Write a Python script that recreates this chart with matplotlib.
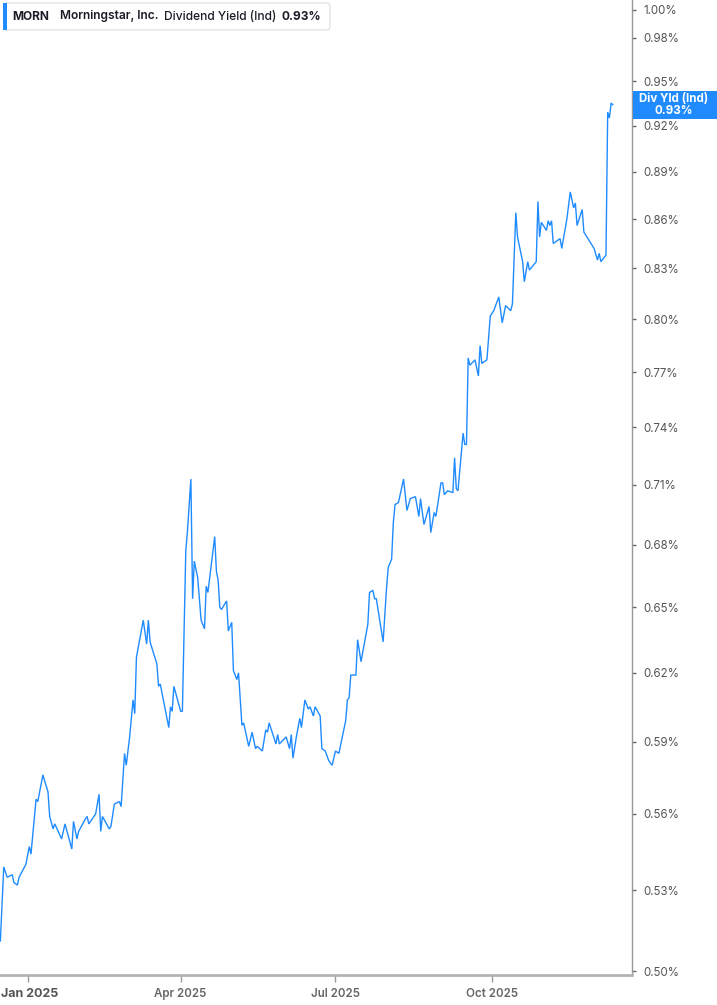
import matplotlib
matplotlib.use("Agg")
import matplotlib.pyplot as plt
import matplotlib.dates as mdates
from matplotlib.patches import FancyBboxPatch, Rectangle
import pandas as pd

plt.rcParams['font.family'] = ['Inter', 'DejaVu Sans']

ticker = "MORN"
company = "Morningstar, Inc."
metric = "Dividend Yield (Ind)"
badge_name = "Div Yld (Ind)"

dates = [
    "2024-12-16", "2024-12-18", "2024-12-20", "2024-12-23", "2024-12-24", "2024-12-26", "2024-12-27", "2024-12-31",
    "2025-01-02", "2025-01-03", "2025-01-06", "2025-01-07", "2025-01-10", "2025-01-13", "2025-01-14", "2025-01-16",
    "2025-01-17", "2025-01-21", "2025-01-23", "2025-01-27", "2025-01-28", "2025-01-30", "2025-01-31",
    "2025-02-04", "2025-02-05", "2025-02-06", "2025-02-10", "2025-02-12", "2025-02-13", "2025-02-14", "2025-02-18",
    "2025-02-19", "2025-02-21", "2025-02-24", "2025-02-25", "2025-02-27", "2025-02-28",
    "2025-03-02", "2025-03-04", "2025-03-05", "2025-03-06", "2025-03-10", "2025-03-12", "2025-03-13", "2025-03-14",
    "2025-03-18", "2025-03-19", "2025-03-20", "2025-03-25", "2025-03-26", "2025-03-27", "2025-03-28",
    "2025-04-01", "2025-04-02", "2025-04-04", "2025-04-05", "2025-04-07", "2025-04-08", "2025-04-09", "2025-04-11",
    "2025-04-13", "2025-04-15", "2025-04-16", "2025-04-17", "2025-04-21", "2025-04-22", "2025-04-23", "2025-04-24",
    "2025-04-25", "2025-04-28", "2025-04-29",
    "2025-05-01", "2025-05-02", "2025-05-04", "2025-05-05", "2025-05-07", "2025-05-08", "2025-05-11", "2025-05-13",
    "2025-05-15", "2025-05-16", "2025-05-19", "2025-05-21", "2025-05-22", "2025-05-23", "2025-05-27", "2025-05-28",
    "2025-05-29",
    "2025-06-02", "2025-06-04", "2025-06-05", "2025-06-06", "2025-06-08", "2025-06-10", "2025-06-11", "2025-06-13",
    "2025-06-15", "2025-06-16", "2025-06-18", "2025-06-19", "2025-06-22", "2025-06-23", "2025-06-25", "2025-06-27",
    "2025-06-29",
    "2025-07-01", "2025-07-03", "2025-07-07", "2025-07-08", "2025-07-09", "2025-07-10", "2025-07-13", "2025-07-14",
    "2025-07-16", "2025-07-20", "2025-07-21", "2025-07-23", "2025-07-24", "2025-07-25", "2025-07-27", "2025-07-29",
    "2025-07-31",
    "2025-08-01", "2025-08-03", "2025-08-04", "2025-08-05", "2025-08-07", "2025-08-10", "2025-08-12", "2025-08-14",
    "2025-08-17", "2025-08-19", "2025-08-20", "2025-08-22", "2025-08-25", "2025-08-26", "2025-08-28", "2025-08-29",
    "2025-09-01", "2025-09-02", "2025-09-03", "2025-09-05", "2025-09-08", "2025-09-09", "2025-09-10", "2025-09-11",
    "2025-09-14", "2025-09-15", "2025-09-16", "2025-09-17", "2025-09-18", "2025-09-21", "2025-09-23", "2025-09-24",
    "2025-09-25", "2025-09-28", "2025-09-30",
    "2025-10-02", "2025-10-05", "2025-10-07", "2025-10-09", "2025-10-12", "2025-10-13", "2025-10-15", "2025-10-16",
    "2025-10-19", "2025-10-20", "2025-10-22", "2025-10-23", "2025-10-27", "2025-10-28", "2025-10-29", "2025-10-30",
    "2025-11-02", "2025-11-03", "2025-11-04", "2025-11-05", "2025-11-06", "2025-11-10", "2025-11-11", "2025-11-14",
    "2025-11-16", "2025-11-18", "2025-11-19", "2025-11-20", "2025-11-23", "2025-11-24", "2025-11-30",
    "2025-12-02", "2025-12-03", "2025-12-04", "2025-12-07", "2025-12-08", "2025-12-09", "2025-12-10", "2025-12-11",
]

yield_pct = [
    0.511, 0.539, 0.535, 0.536, 0.533, 0.532, 0.535, 0.540,
    0.547, 0.544, 0.566, 0.565, 0.576, 0.569, 0.559, 0.554,
    0.556, 0.550, 0.556, 0.546, 0.557, 0.550, 0.553,
    0.558, 0.559, 0.556, 0.560, 0.568, 0.553, 0.559, 0.554,
    0.555, 0.564, 0.565, 0.563, 0.585, 0.580,
    0.592, 0.608, 0.602, 0.627, 0.644, 0.633, 0.644, 0.634,
    0.624, 0.614, 0.615, 0.596, 0.605, 0.603, 0.614,
    0.603, 0.603, 0.677, 0.687, 0.713, 0.654, 0.672, 0.664,
    0.644, 0.640, 0.660, 0.657, 0.684, 0.667, 0.663, 0.650,
    0.649, 0.653, 0.639,
    0.643, 0.621, 0.617, 0.620, 0.597, 0.598, 0.588, 0.594,
    0.587, 0.588, 0.586, 0.595, 0.594, 0.598, 0.589, 0.593,
    0.589,
    0.592, 0.587, 0.593, 0.583, 0.592, 0.600, 0.596, 0.608,
    0.604, 0.605, 0.601, 0.605, 0.601, 0.587, 0.586, 0.582,
    0.580,
    0.586, 0.585, 0.599, 0.608, 0.609, 0.619, 0.619, 0.635,
    0.625, 0.642, 0.657, 0.658, 0.654, 0.654, 0.644, 0.634,
    0.659,
    0.669, 0.673, 0.691, 0.700, 0.701, 0.713, 0.697, 0.703,
    0.704, 0.694, 0.703, 0.690, 0.699, 0.686, 0.696, 0.694,
    0.711, 0.711, 0.705, 0.707, 0.706, 0.724, 0.708, 0.707,
    0.737, 0.731, 0.731, 0.778, 0.774, 0.777, 0.768, 0.785,
    0.775, 0.777, 0.802,
    0.805, 0.813, 0.798, 0.808, 0.805, 0.809, 0.864, 0.849,
    0.834, 0.822, 0.834, 0.829, 0.834, 0.871, 0.849, 0.858,
    0.853, 0.859, 0.856, 0.859, 0.845, 0.848, 0.842, 0.860,
    0.877, 0.867, 0.870, 0.856, 0.866, 0.852, 0.842,
    0.835, 0.839, 0.834, 0.838, 0.929, 0.925, 0.935, 0.934,
]

ytick_vals = [0.50, 0.53, 0.56, 0.59, 0.62, 0.65, 0.68, 0.71, 0.74, 0.77,
              0.80, 0.83, 0.86, 0.89, 0.92, 0.95, 0.98, 1.00]
xtick_dates = ["2025-01-01", "2025-04-01", "2025-07-01", "2025-10-01"]
xtick_labels = ["Jan 2025", "Apr 2025", "Jul 2025", "Oct 2025"]
x_range = ["2024-12-15 19:00", "2025-12-22 07:00"]
y_range = [0.4986, 1.0072]

LINE = "#1f8bff"
W, H = 717, 1005

fig = plt.figure(figsize=(W / 100, H / 100), dpi=100)
fig.patch.set_facecolor("white")
ax = fig.add_axes([0, 1 - 975 / H, 632 / W, 975 / H])
ax.set_facecolor("white")

x = pd.to_datetime(dates)
ax.plot(x, yield_pct, color=LINE, lw=1.0, solid_joinstyle="miter")

ax.set_yscale("log")
ax.set_ylim(*y_range)
ax.set_xlim(pd.Timestamp(x_range[0]), pd.Timestamp(x_range[1]))

ax.yaxis.tick_right()
ax.set_yticks(ytick_vals)
ax.set_yticklabels([f"{v:.2f}%" for v in ytick_vals])
ax.yaxis.set_minor_locator(matplotlib.ticker.NullLocator())
ax.tick_params(axis="y", which="major", length=3, width=1, color="#666666",
               labelsize=8.3, labelcolor="#555555", pad=5, direction="out")

xt = pd.to_datetime(xtick_dates)
ax.set_xticks(xt)
ax.set_xticklabels(xtick_labels)
ax.xaxis.set_minor_locator(matplotlib.ticker.NullLocator())
ax.tick_params(axis="x", which="major", length=5, width=1, color="#999999",
               labelsize=8.3, labelcolor="#666666", pad=4, direction="out")
for i, lab in enumerate(ax.get_xticklabels()):
    if i == 0:
        lab.set_fontweight("bold")
        lab.set_fontsize(9.0)
        lab.set_color("#555555")
        lab.set_horizontalalignment("left")
        lab.set_x(0)
    else:
        lab.set_fontweight("semibold")
# place the first label flush with the left edge, as in the reference
first = ax.get_xticklabels()[0]
first.set_transform(first.get_transform() + matplotlib.transforms.ScaledTranslation(-27 / 100, 0, fig.dpi_scale_trans))

for s in ["top", "left"]:
    ax.spines[s].set_visible(False)
ax.spines["right"].set_color("#999999")
ax.spines["right"].set_linewidth(1.0)
ax.spines["bottom"].set_color("#b3b3b3")
ax.spines["bottom"].set_linewidth(2.0)


def fx(px):
    return px / W


def fy(py):
    return 1 - py / H


# header box
box = FancyBboxPatch((fx(4), fy(30)), fx(326), 27 / H,
                     boxstyle="round,pad=0,rounding_size=0.004",
                     transform=fig.transFigure, facecolor="white",
                     edgecolor="#e3e3e3", lw=1.0, zorder=5)
fig.patches.append(box)
bar = Rectangle((fx(3), fy(30)), fx(4), 27 / H, transform=fig.transFigure,
                facecolor=LINE, edgecolor="none", zorder=6)
fig.patches.append(bar)

hdr_y = fy(16.5)
HS = 8.6
fig.text(fx(12), hdr_y, ticker, fontsize=HS, fontweight="bold", color="#1c1c28",
         va="center", ha="left", zorder=7)
fig.text(fx(60), hdr_y, company, fontsize=HS, fontweight="semibold", color="#1c1c28",
         va="center", ha="left", zorder=7)
fig.text(fx(164), hdr_y, metric, fontsize=HS, fontweight="medium", color="#1c1c28",
         va="center", ha="left", zorder=7)
fig.text(fx(282), hdr_y, f"{yield_pct[-1]:.2f}%", fontsize=HS, fontweight="bold",
         color="#1c1c28", va="center", ha="left", zorder=7)

# last value badge
badge = Rectangle((fx(633), fy(119)), fx(84), 28 / H, transform=fig.transFigure,
                  facecolor=LINE, edgecolor="none", zorder=6)
fig.patches.append(badge)
fig.text(fx(674), fy(98.5), badge_name, fontsize=8.3, fontweight="bold", color="white",
         ha="center", va="center", zorder=7)
fig.text(fx(674), fy(110.5), f"{yield_pct[-1]:.2f}%", fontsize=8.3, fontweight="bold",
         color="white", ha="center", va="center", zorder=7)

fig.savefig("out.png", dpi=100, facecolor="white")
